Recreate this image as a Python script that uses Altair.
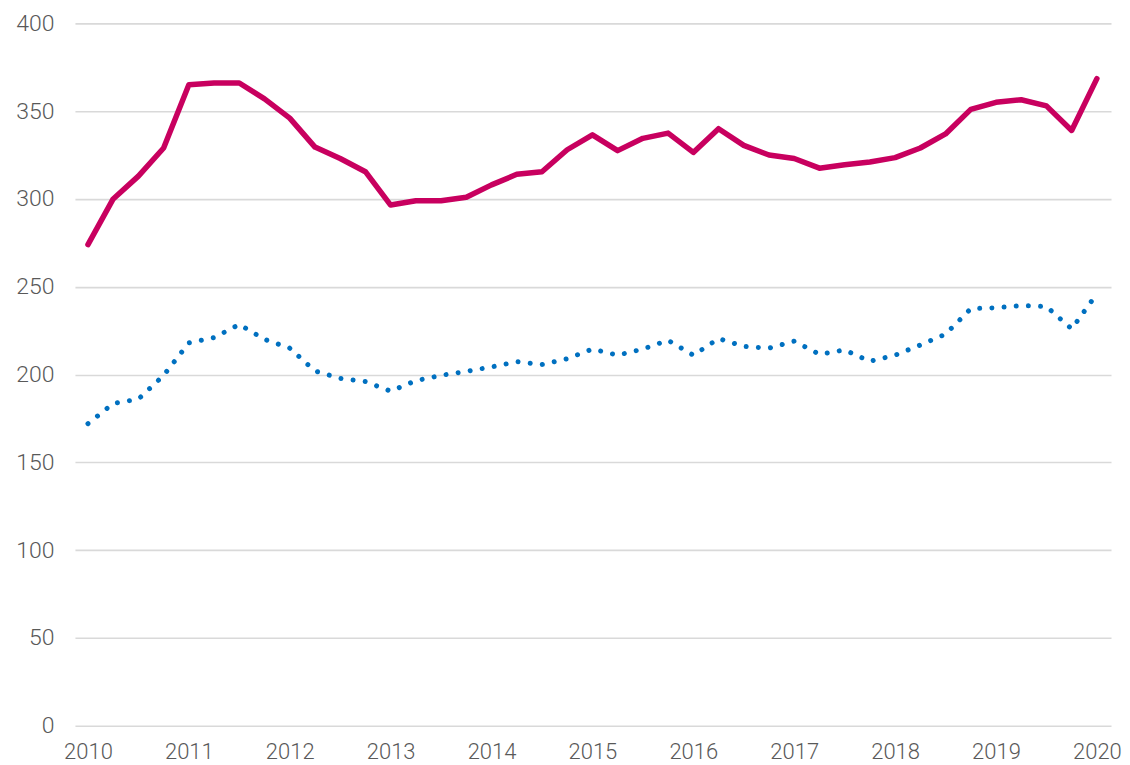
import altair as alt
import pandas as pd

# quarterly observations, 2010 Q1 .. 2020 Q1
quarters = [2010 + i / 4 for i in range(41)]
series_a = [274, 300, 313, 329, 365, 366, 366, 357, 346, 329.5,
            323, 315.5, 296.5, 299, 299, 301, 308, 314, 315.5, 328,
            336.5, 327.5, 334.5, 337.5, 326.5, 340, 330.5, 325, 323, 317.5,
            319.5, 321, 323.5, 329, 337, 351, 355, 356.5, 353, 339, 368.5]
series_b = [172, 183.5, 186, 199.5, 218, 221, 228.5, 220, 215, 202,
            197.8, 196, 190.5, 196.5, 199.5, 201.8, 204.3, 207.3, 205.7, 209,
            214.5, 211, 214.5, 219.5, 211, 220.5, 216, 215, 219, 211.5,
            214, 207.5, 211, 216.8, 223, 237.5, 238, 239.3, 238.7, 226, 246]
year_ticks = list(range(2010, 2021))
y_ticks = list(range(0, 401, 50))

df_a = pd.DataFrame({"t": quarters, "v": series_a})
df_b = pd.DataFrame({"t": quarters, "v": series_b})

FONT = "Roboto"
x_enc = alt.X("t:Q",
              scale=alt.Scale(domain=[2009.871, 2020.14], nice=False, zero=False),
              axis=alt.Axis(values=year_ticks, format="d", title=None, grid=False,
                            domain=False, ticks=False, labelPadding=16,
                            labelFontSize=22, labelColor="#595959", labelFont=FONT,
                            labelFontWeight=300, labelFlush=False))
y_enc = alt.Y("v:Q",
              scale=alt.Scale(domain=[0, 400], nice=False),
              axis=alt.Axis(values=y_ticks, title=None, grid=True, gridColor="#d9d9d9",
                            gridWidth=1.6, domain=False, ticks=False, labelPadding=21,
                            labelFontSize=23, labelColor="#595959", labelFont=FONT,
                            labelFontWeight=300))

line_a = alt.Chart(df_a).mark_line(color="#c8005f", strokeWidth=5.5,
                                   strokeCap="round", strokeJoin="round").encode(x=x_enc, y=y_enc)
line_b = alt.Chart(df_b).mark_line(color="#0070c0", strokeWidth=5, strokeCap="round",
                                   strokeDash=[0.01, 12.2]).encode(x=x_enc, y=y_enc)

chart = alt.layer(line_a, line_b).properties(
    width=1037, height=703,
    autosize=alt.AutoSizeParams(type="none"),
    padding={"left": 67, "top": 15, "right": 11, "bottom": 40},
).configure_view(stroke=None)

chart.save("out.html", embed_options={"renderer": "svg", "actions": False})
